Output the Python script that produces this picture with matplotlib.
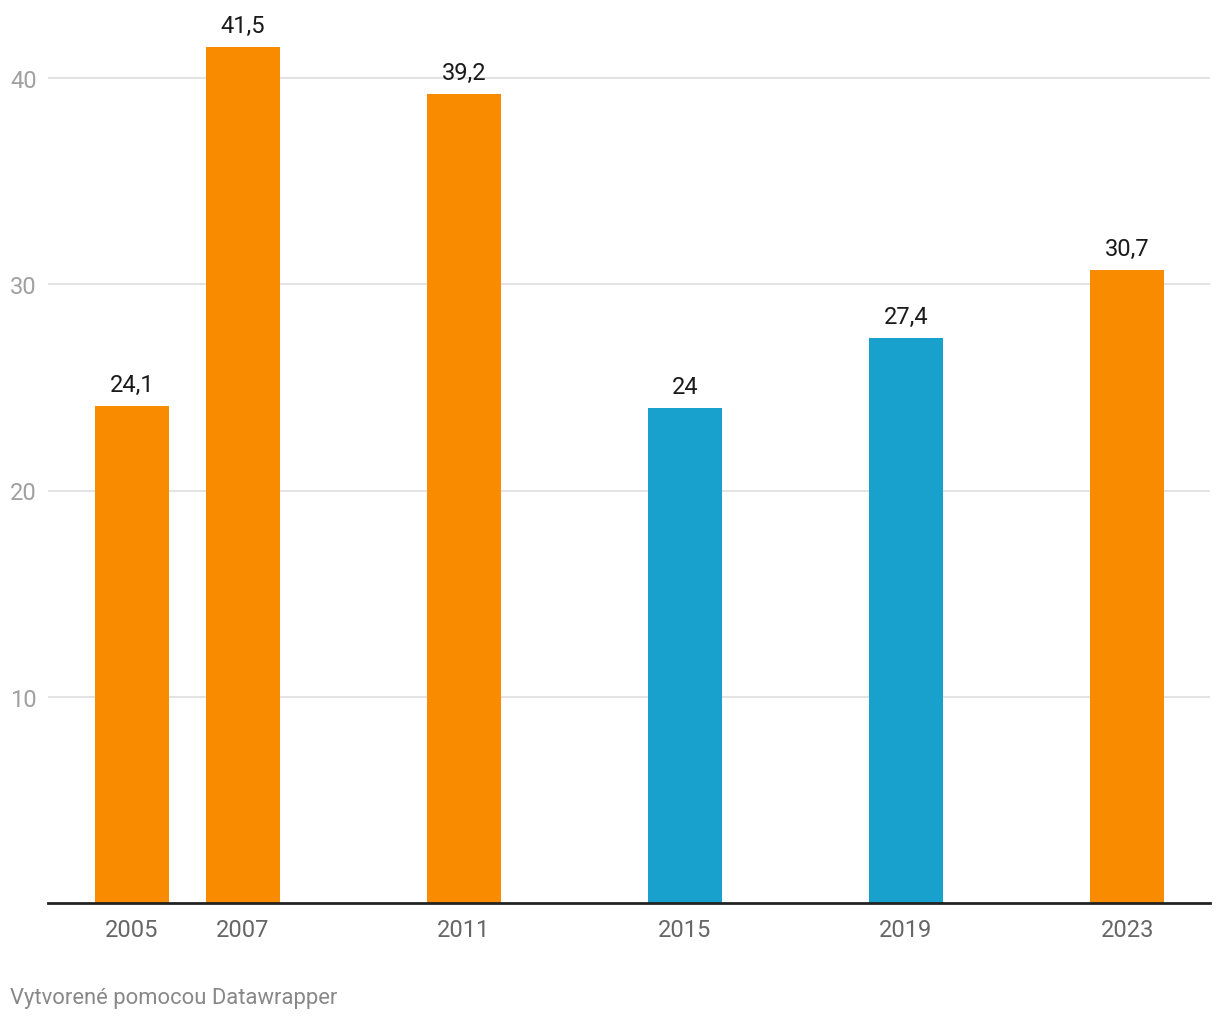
import matplotlib
matplotlib.use("Agg")
import matplotlib.pyplot as plt

years = [2005, 2007, 2011, 2015, 2019, 2023]
values = [24.1, 41.5, 39.2, 24.0, 27.4, 30.7]
labels = ["24,1", "41,5", "39,2", "24", "27,4", "30,7"]
groups = ["o", "o", "o", "b", "b", "o"]
yticks = [10, 20, 30, 40]

palette = {"o": "#F88B00", "b": "#18A1CD"}
plt.rcParams["font.family"] = ["Roboto", "DejaVu Sans"]

W, H = 1220, 1020
fig = plt.figure(figsize=(W / 100, H / 100), dpi=100)
left, right, bottom, top = 48, 1210, 904, 10
ax = fig.add_axes([left / W, (H - bottom) / H, (right - left) / W, (bottom - top) / H])

px_per_unit = (904 - 79) / 40.0
ax.set_ylim(0, (bottom - top) / px_per_unit)
ax.set_xlim(2003.48, 2024.5)

cols = [palette[g] for g in groups]
ax.bar(years, values, width=1.34, color=cols, zorder=3)

for x, v, t in zip(years, values, labels):
    ax.annotate(t, (x, v), xytext=(0, 11), textcoords="offset points",
                ha="center", va="baseline", fontsize=17, color="#1a1a1a", zorder=4)

ax.set_yticks(yticks)
ax.set_yticklabels([str(t) for t in yticks])
ax.yaxis.grid(True, color="#e1e1e1", linewidth=1.3, zorder=0)
ax.set_xticks(years)
ax.set_xticklabels([str(y) for y in years])

for s in ["top", "right", "left"]:
    ax.spines[s].set_visible(False)
ax.spines["bottom"].set_color("#222222")
ax.spines["bottom"].set_linewidth(2)
ax.spines["bottom"].set_zorder(5)

ax.tick_params(axis="y", length=0, pad=8, labelsize=17, labelcolor="#a0a0a0")
ax.tick_params(axis="x", length=0, pad=11, labelsize=17, labelcolor="#666666")

fig.text(10 / W, (H - 1004) / H, "Vytvorené pomocou Datawrapper", ha="left", va="baseline",
         fontsize=15.8, color="#888888")

fig.savefig("out.png", dpi=100)
